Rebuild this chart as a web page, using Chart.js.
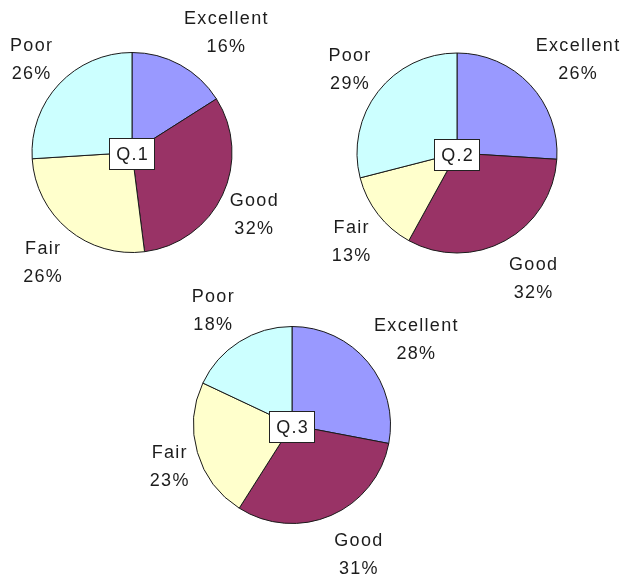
<!DOCTYPE html>
<html>
<head>
<meta charset="utf-8">
<script src="https://cdn.jsdelivr.net/npm/chart.js@4.4.1/dist/chart.umd.min.js"></script>
<style>
  html, body { margin: 0; padding: 0; background: #ffffff; }
  #wrap { position: relative; width: 624px; height: 574px; background: #ffffff; }
  #wrap canvas { position: absolute; left: 0; top: 0; }
</style>
</head>
<body>
<div id="wrap">
  <canvas id="c1" width="624" height="574"></canvas>
  <canvas id="c2" width="624" height="574"></canvas>
  <canvas id="c3" width="624" height="574"></canvas>
</div>
<script>
// ---- data ----
const categories = ["Excellent", "Good", "Fair", "Poor"];
const chartTitles = ["Q.1", "Q.2", "Q.3"];
const q1Values = [16, 32, 26, 26];
const q2Values = [26, 32, 13, 29];
const q3Values = [28, 31, 23, 18];
const sliceColors = ["#9999ff", "#993366", "#ffffcc", "#ccffff"];

// ---- layout (pie centres and radii, in page pixels) ----
const layouts = [
  { id: "c1", cx: 132, cy: 152.5, r: 100 },
  { id: "c2", cx: 457, cy: 153, r: 100 },
  { id: "c3", cx: 292, cy: 425, r: 98.5 }
];
const seriesList = [q1Values, q2Values, q3Values];

const FONT = '18px "Liberation Sans", Arial, sans-serif';
const TEXT_COLOR = "#1c1c1c";
const LINE_GAP = 28;

function setSpacing(ctx) {
  if ('letterSpacing' in ctx) ctx.letterSpacing = '1.3px';
}

const outsideLabels = {
  id: 'outsideLabels',
  afterDatasetsDraw(chart) {
    const ctx = chart.ctx;
    const meta = chart.getDatasetMeta(0);
    const values = chart.data.datasets[0].data;
    ctx.save();
    ctx.font = FONT;
    setSpacing(ctx);
    ctx.fillStyle = TEXT_COLOR;
    ctx.textAlign = 'center';
    ctx.textBaseline = 'middle';
    meta.data.forEach((arc, i) => {
      const p = arc.getProps(['x', 'y', 'startAngle', 'endAngle', 'outerRadius'], true);
      const mid = (p.startAngle + p.endAngle) / 2;
      const dx = Math.cos(mid), dy = Math.sin(mid);
      const l1 = chart.data.labels[i];
      const l2 = values[i] + '%';
      const w = Math.max(ctx.measureText(l1).width, ctx.measureText(l2).width);
      const sx = Math.abs(dx) < 0.05 ? 0 : Math.sign(dx);
      const bx = p.x + dx * (p.outerRadius + 8) + sx * w / 2;
      const by = p.y + dy * (p.outerRadius + 40) + 3;
      ctx.fillText(l1, bx, by - LINE_GAP / 2);
      ctx.fillText(l2, bx, by + LINE_GAP / 2);
    });
    ctx.restore();
  },
  afterDraw(chart) {
    const ctx = chart.ctx;
    const meta = chart.getDatasetMeta(0);
    const arc = meta.data[0];
    const title = chart.options.plugins.centerBox.text;
    ctx.save();
    ctx.font = FONT;
    setSpacing(ctx);
    const tw = ctx.measureText(title).width;
    const bw = Math.round(tw + 12), bh = 31;
    const x0 = Math.round(arc.x - bw / 2 - 1) + 0.5;
    const y0 = Math.round(arc.y - bh / 2 + 1) + 0.5;
    ctx.fillStyle = '#ffffff';
    ctx.fillRect(x0, y0, bw, bh);
    ctx.strokeStyle = '#222222';
    ctx.lineWidth = 1;
    ctx.strokeRect(x0, y0, bw, bh);
    ctx.fillStyle = TEXT_COLOR;
    ctx.textAlign = 'center';
    ctx.textBaseline = 'middle';
    ctx.fillText(title, x0 + bw / 2 + 0.6, y0 + bh / 2 + 1);
    ctx.restore();
  }
};

layouts.forEach((L, k) => {
  const size = 2 * L.r + 1;
  const left = L.cx - size / 2, top = L.cy - size / 2;
  new Chart(document.getElementById(L.id), {
    type: 'pie',
    data: {
      labels: categories,
      datasets: [{
        data: seriesList[k],
        backgroundColor: sliceColors,
        borderColor: '#1a1a1a',
        borderWidth: 1
      }]
    },
    options: {
      responsive: false,
      animation: false,
      events: [],
      rotation: 0,
      layout: {
        padding: { left: left, top: top, right: 624 - left - size, bottom: 574 - top - size }
      },
      plugins: {
        legend: { display: false },
        tooltip: { enabled: false },
        centerBox: { text: chartTitles[k] }
      }
    },
    plugins: [outsideLabels]
  });
});
</script>
</body>
</html>
